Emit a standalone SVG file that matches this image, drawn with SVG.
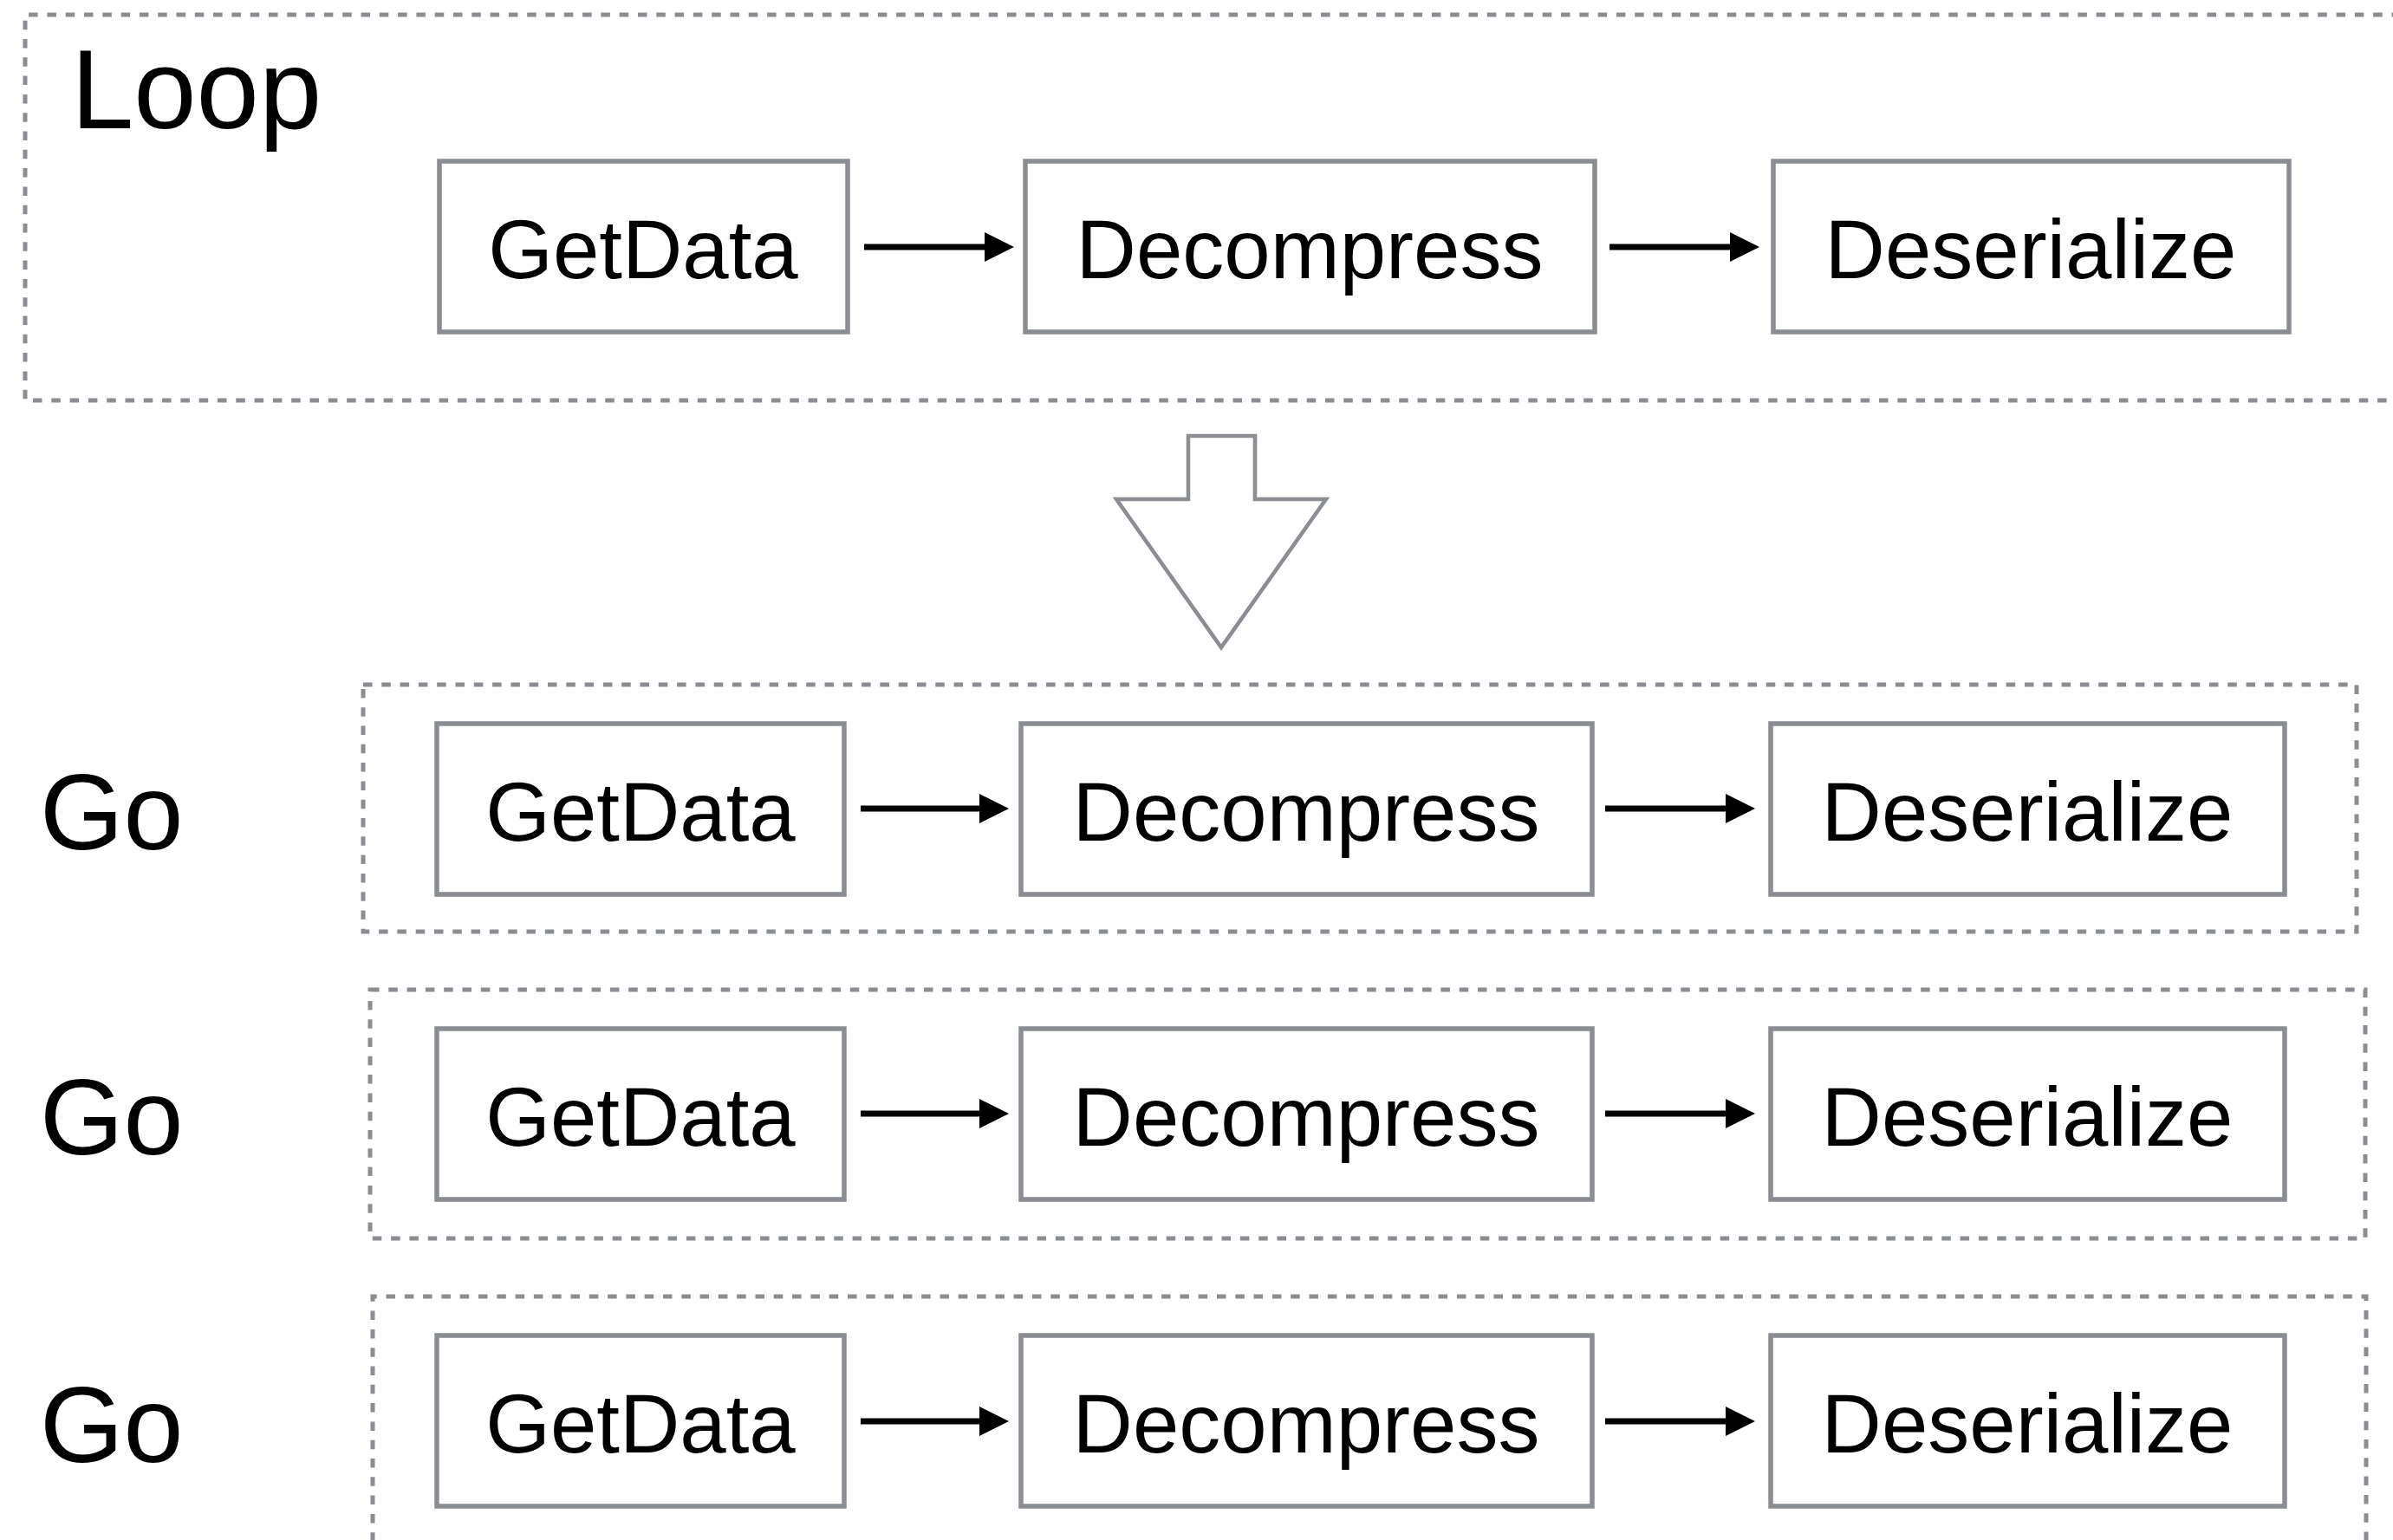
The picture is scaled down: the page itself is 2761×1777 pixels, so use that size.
<svg xmlns="http://www.w3.org/2000/svg" width="2761" height="1777" viewBox="0 0 2761 1777">
<style>
.frame{fill:none;stroke:#8a8d91;stroke-width:5;stroke-dasharray:10.5 10.8}
.box{fill:#fff;stroke:#8a8d91;stroke-width:5.5}
.lbl{font-family:"Liberation Sans",Arial,Helvetica,sans-serif;font-size:96px;fill:#000;text-anchor:middle}
.big{font-family:"Liberation Sans",Arial,Helvetica,sans-serif;fill:#000}
.conn{stroke:#000;stroke-width:7;fill:none;marker-end:url(#ah)}
</style>
<defs>
<marker id="ah" markerUnits="userSpaceOnUse" markerWidth="36" markerHeight="36" refX="1" refY="17" orient="auto">
<path d="M0,0 L34,17 L0,34 Z" fill="#000"/>
</marker>
</defs>
<rect width="2761" height="1777" fill="#fff"/>

<g id="loop-frame">
<path class="frame" d="M2770,17 H29 V462 H2770"/>
<text class="big" x="82" y="148" font-size="130">Loop</text>
</g>

<g id="big-arrow">
<path d="M1371,503 H1448 V576 H1530 L1409,747 L1288,576 H1371 Z" fill="#fff" stroke="#8a8d91" stroke-width="4.5" stroke-linejoin="miter"/>
</g>

<g id="go1-frame">
<path class="frame" d="M419,790 H2719 V1075 H419 Z"/>
<text class="big" x="46" y="980" font-size="124">Go</text>
</g>
<g id="go2-frame">
<path class="frame" d="M427,1142 H2729 V1429 H427 Z"/>
<text class="big" x="46" y="1332" font-size="124">Go</text>
</g>
<g id="go3-frame">
<path class="frame" d="M430,1800 V1496 H2730 V1800"/>
<text class="big" x="46" y="1687" font-size="124">Go</text>
</g>

<g id="loop-getdata"><rect class="box" x="507" y="186" width="471" height="197"/><text class="lbl" x="742" y="321">GetData</text></g>
<g id="loop-decompress"><rect class="box" x="1183" y="186" width="657" height="197"/><text class="lbl" x="1511" y="321">Decompress</text></g>
<g id="loop-deserialize"><rect class="box" x="2046" y="186" width="595" height="197"/><text class="lbl" x="2343" y="321">Deserialize</text></g>

<g id="go1-getdata"><rect class="box" x="504" y="835" width="470" height="197"/><text class="lbl" x="739" y="970">GetData</text></g>
<g id="go1-decompress"><rect class="box" x="1178" y="835" width="659" height="197"/><text class="lbl" x="1507" y="970">Decompress</text></g>
<g id="go1-deserialize"><rect class="box" x="2043" y="835" width="593" height="197"/><text class="lbl" x="2339" y="970">Deserialize</text></g>

<g id="go2-getdata"><rect class="box" x="504" y="1187" width="470" height="197"/><text class="lbl" x="739" y="1322">GetData</text></g>
<g id="go2-decompress"><rect class="box" x="1178" y="1187" width="659" height="197"/><text class="lbl" x="1507" y="1322">Decompress</text></g>
<g id="go2-deserialize"><rect class="box" x="2043" y="1187" width="593" height="197"/><text class="lbl" x="2339" y="1322">Deserialize</text></g>

<g id="go3-getdata"><rect class="box" x="504" y="1541" width="470" height="197"/><text class="lbl" x="739" y="1676">GetData</text></g>
<g id="go3-decompress"><rect class="box" x="1178" y="1541" width="659" height="197"/><text class="lbl" x="1507" y="1676">Decompress</text></g>
<g id="go3-deserialize"><rect class="box" x="2043" y="1541" width="593" height="197"/><text class="lbl" x="2339" y="1676">Deserialize</text></g>

<g id="connectors">
<line class="conn" x1="997" y1="285" x2="1137" y2="285"/>
<line class="conn" x1="1857" y1="285" x2="1997" y2="285"/>
<line class="conn" x1="993" y1="933" x2="1131" y2="933"/>
<line class="conn" x1="1852" y1="933" x2="1992" y2="933"/>
<line class="conn" x1="993" y1="1285" x2="1131" y2="1285"/>
<line class="conn" x1="1852" y1="1285" x2="1992" y2="1285"/>
<line class="conn" x1="993" y1="1640" x2="1131" y2="1640"/>
<line class="conn" x1="1852" y1="1640" x2="1992" y2="1640"/>
</g>
</svg>
